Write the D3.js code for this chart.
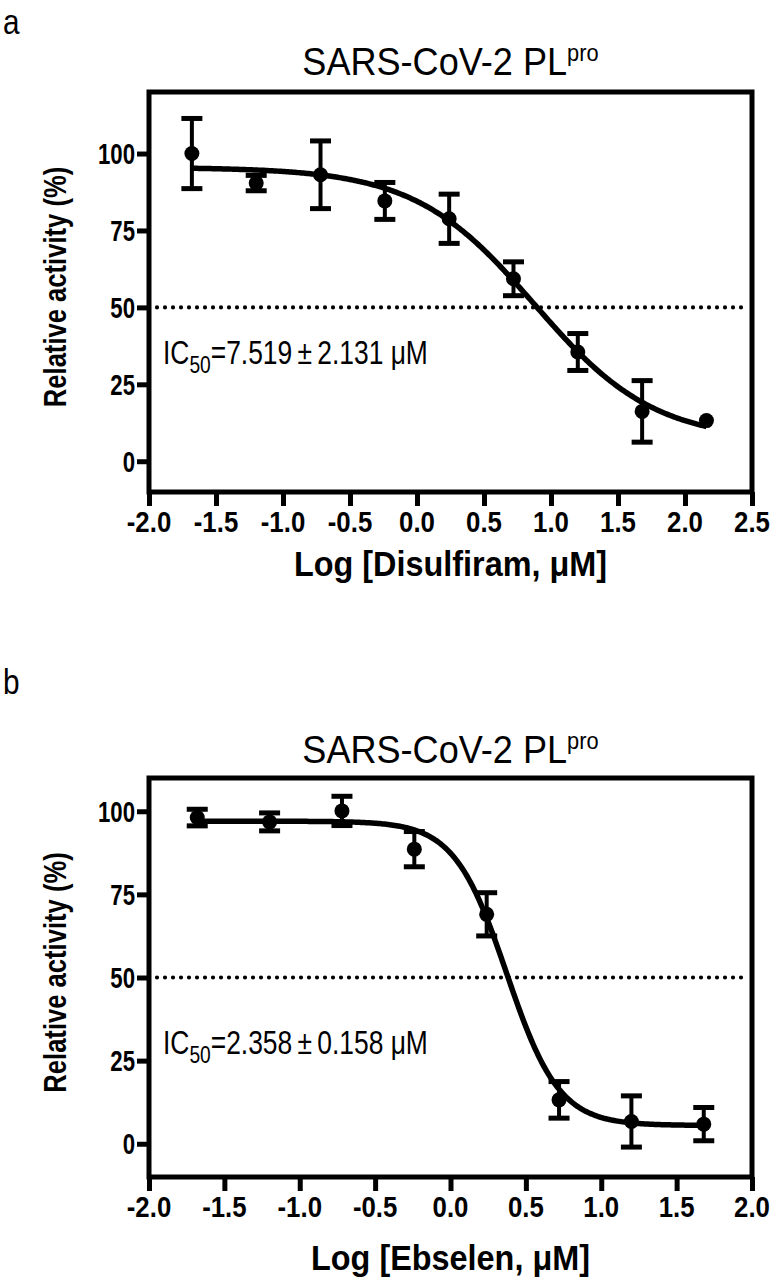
<!DOCTYPE html>
<html>
<head>
<meta charset="utf-8">
<script src="https://cdn.jsdelivr.net/npm/d3@7"></script>
<style>
  html, body { margin: 0; padding: 0; background: #fff; }
  svg { display: block; }
  text { font-family: "Liberation Sans", Arial, Helvetica, sans-serif; fill: #000; }
</style>
</head>
<body>
<svg id="chart" width="779" height="1284"></svg>
<script>
// ---------- Data ----------
const titleText = "SARS-CoV-2 PL";
const titleSup = "pro";
const yTicks = [0, 25, 50, 75, 100];

// Panel a : Disulfiram
const xA = [-1.68, -1.20, -0.72, -0.24, 0.24, 0.72, 1.20, 1.68, 2.16];
const yA = [100, 90.4, 93.1, 84.6, 78.8, 59.3, 35.5, 16.2, 13.2];
const errA = [11.4, 2.5, 11.0, 6.0, 8.0, 5.5, 6.0, 10.0, 0];
const fitA = [95.5, 6.5, 0.876, 0.97];          // top, bottom, logIC50, hill
const xTicksA = [-2.0, -1.5, -1.0, -0.5, 0.0, 0.5, 1.0, 1.5, 2.0, 2.5];
const xLabelA = "Log [Disulfiram, \u03bcM]";
const ic50A = ["7.519", "2.131"];

// Panel b : Ebselen
const xB = [-1.68, -1.20, -0.72, -0.24, 0.24, 0.72, 1.20, 1.68];
const yB = [98.1, 96.8, 100.1, 88.6, 69.0, 13.2, 6.7, 5.9];
const errB = [2.5, 2.7, 4.4, 5.3, 6.5, 5.5, 7.7, 5.0];
const fitB = [97.0, 5.5, 0.3725, 2.5];
const xTicksB = [-2.0, -1.5, -1.0, -0.5, 0.0, 0.5, 1.0, 1.5, 2.0];
const xLabelB = "Log [Ebselen, \u03bcM]";
const ic50B = ["2.358", "0.158"];

const yLabel = "Relative activity (%)";

// ---------- Drawing ----------
const svg = d3.select("#chart");
svg.append("rect").attr("width", 779).attr("height", 1284).attr("fill", "#fff");

function drawPanel(cfg) {
  const g = svg.append("g");
  const x = d3.scaleLinear().domain(cfg.xDomain).range([cfg.left, cfg.right]);
  const y = d3.scaleLinear().domain(cfg.yDomain).range([cfg.bottom, cfg.top]);
  const SW = 5;

  // panel letter
  g.append("text").attr("transform", `translate(3,${cfg.letterY}) scale(0.85,1)`)
    .attr("font-size", 35).text(cfg.letter);

  // title
  const t = g.append("text")
    .attr("transform", `translate(${(cfg.left + cfg.right) / 2},${cfg.titleY}) scale(0.95,1)`)
    .attr("text-anchor", "middle").attr("font-size", 38);
  t.append("tspan").text(titleText);
  t.append("tspan").attr("font-size", 23).attr("dy", -14).text(titleSup);

  // y axis ticks & labels
  const yAxis = d3.axisLeft(y).tickValues(yTicks).tickSize(12).tickSizeOuter(0);
  const ya = g.append("g").attr("transform", `translate(${cfg.left},0)`).call(yAxis);
  ya.select(".domain").remove();
  ya.selectAll(".tick line").attr("stroke", "#000").attr("stroke-width", SW);
  ya.selectAll(".tick text").remove();
  yTicks.forEach(v => {
    g.append("text")
      .attr("transform", `translate(${cfg.left - 14},${y(v) + 10.5}) scale(0.74,1)`)
      .attr("text-anchor", "end").attr("font-size", 30).attr("font-weight", "bold")
      .text(v);
  });

  // x axis ticks & labels
  const xAxis = d3.axisBottom(x).tickValues(cfg.xTicks).tickSize(14).tickSizeOuter(0);
  const xa = g.append("g").attr("transform", `translate(0,${cfg.bottom})`).call(xAxis);
  xa.select(".domain").remove();
  xa.selectAll(".tick line").attr("stroke", "#000").attr("stroke-width", SW);
  xa.selectAll(".tick text").remove();
  cfg.xTicks.forEach(v => {
    g.append("text")
      .attr("transform", `translate(${x(v)},${cfg.bottom + 40}) scale(0.86,1)`)
      .attr("text-anchor", "middle").attr("font-size", 30).attr("font-weight", "bold")
      .text(d3.format(".1f")(v).replace("\u2212", "-"));
  });

  // frame
  g.append("rect")
    .attr("x", cfg.left).attr("y", cfg.top)
    .attr("width", cfg.right - cfg.left).attr("height", cfg.bottom - cfg.top)
    .attr("fill", "none").attr("stroke", "#000").attr("stroke-width", SW);

  // axis titles
  g.append("text")
    .attr("transform", `translate(${(cfg.left + cfg.right) / 2},${cfg.xTitleY}) scale(0.9,1)`)
    .attr("text-anchor", "middle").attr("font-size", 36).attr("font-weight", "bold")
    .text(cfg.xLabel);
  g.append("text")
    .attr("transform", `translate(66,${(cfg.top + cfg.bottom) / 2 - 5}) rotate(-90) scale(0.8,1)`)
    .attr("text-anchor", "middle").attr("font-size", 32).attr("font-weight", "bold")
    .text(yLabel);

  // dotted 50% line
  g.append("line")
    .attr("x1", cfg.left + 8).attr("x2", cfg.right - 6)
    .attr("y1", y(50)).attr("y2", y(50))
    .attr("stroke", "#000").attr("stroke-width", 4.2)
    .attr("stroke-linecap", "round").attr("stroke-dasharray", "0 8");

  // IC50 text
  const ic = g.append("text")
    .attr("transform", `translate(${cfg.left + 14},${cfg.icY}) scale(0.8,1)`)
    .attr("font-size", 33);
  ic.append("tspan").text("IC");
  ic.append("tspan").attr("font-size", 24).attr("dy", 9).text("50");
  ic.append("tspan").attr("dy", -9).text("=" + cfg.ic50[0] + "\u2009\u00b1\u2009" + cfg.ic50[1] + " \u03bcM");

  // error bars
  const data = cfg.xs.map((v, i) => ({ x: v, y: cfg.ys[i], e: cfg.errs[i] }));
  const eb = g.append("g").attr("stroke", "#000").attr("stroke-width", 4);
  data.filter(d => d.e > 0).forEach(d => {
    eb.append("line").attr("x1", x(d.x)).attr("x2", x(d.x))
      .attr("y1", y(d.y - d.e)).attr("y2", y(d.y + d.e));
    [d.y - d.e, d.y + d.e].forEach(v => {
      eb.append("line").attr("x1", x(d.x) - 10.5).attr("x2", x(d.x) + 10.5)
        .attr("y1", y(v)).attr("y2", y(v)).attr("stroke-width", 5);
    });
  });

  // fitted curve (4-parameter logistic from fit parameters)
  const [top, bot, logIC, hill] = cfg.fit;
  const xmin = d3.min(cfg.xs), xmax = d3.max(cfg.xs);
  const curvePts = d3.range(0, 301).map(i => {
    const xv = xmin + (xmax - xmin) * i / 300;
    return [xv, bot + (top - bot) / (1 + Math.pow(10, hill * (xv - logIC)))];
  });
  g.append("path").datum(curvePts)
    .attr("d", d3.line().x(d => x(d[0])).y(d => y(d[1])))
    .attr("fill", "none").attr("stroke", "#000").attr("stroke-width", 5.5);

  // points
  g.selectAll(null).data(data).enter().append("circle")
    .attr("cx", d => x(d.x)).attr("cy", d => y(d.y)).attr("r", 7.5).attr("fill", "#000");
}

drawPanel({
  letter: "a", letterY: 34, titleY: 75,
  left: 149, right: 752, top: 92, bottom: 492,
  xDomain: [-2.0, 2.5], yDomain: [-10, 120],
  xTicks: xTicksA, xLabel: xLabelA, xTitleY: 576,
  xs: xA, ys: yA, errs: errA, fit: fitA, ic50: ic50A, icY: 364
});

drawPanel({
  letter: "b", letterY: 694, titleY: 763,
  left: 149, right: 752, top: 778, bottom: 1177,
  xDomain: [-2.0, 2.0], yDomain: [-10, 110],
  xTicks: xTicksB, xLabel: xLabelB, xTitleY: 1270,
  xs: xB, ys: yB, errs: errB, fit: fitB, ic50: ic50B, icY: 1054
});
</script>
</body>
</html>
